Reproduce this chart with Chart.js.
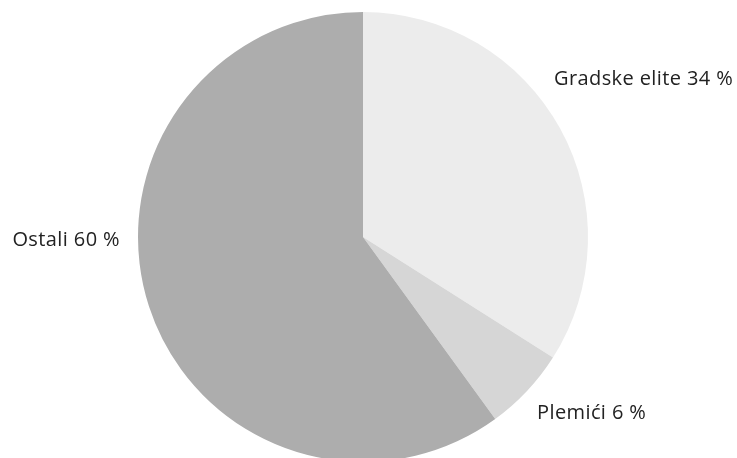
<!DOCTYPE html>
<html>
<head>
<meta charset="utf-8">
<script src="https://cdn.jsdelivr.net/npm/chart.js@4.4.0/dist/chart.umd.min.js"></script>
<style>
  html, body { margin: 0; padding: 0; background: #fff; overflow: hidden; }
  #wrap { width: 737px; height: 474px; }
</style>
</head>
<body>
<div id="wrap"><canvas id="pie" width="737" height="474"></canvas></div>
<script>
const categories = ["Gradske elite", "Plemići", "Ostali"];
const shares = [34, 6, 60];
const sliceColors = ["#ececec", "#d6d6d6", "#adadad"];

// where each label sits (left/right edge x, baseline y)
const labelPlacement = [
  { x: 554, y: 85, align: "left" },
  { x: 537, y: 419, align: "left" },
  { x: 120, y: 246, align: "right" },
];

const sliceLabels = {
  id: "sliceLabels",
  afterDraw(chart) {
    const ctx = chart.ctx;
    ctx.save();
    ctx.font = "20px 'Open Sans'";
    ctx.letterSpacing = "0.4px";
    ctx.fillStyle = "#222";
    ctx.textBaseline = "alphabetic";
    categories.forEach((c, i) => {
      const p = labelPlacement[i];
      ctx.textAlign = p.align;
      ctx.fillText(c + " " + shares[i] + " %", p.x, p.y);
    });
    ctx.restore();
  },
};

new Chart(document.getElementById("pie"), {
  type: "pie",
  data: {
    labels: categories,
    datasets: [
      {
        data: shares,
        backgroundColor: sliceColors,
        borderWidth: 0,
      },
    ],
  },
  options: {
    responsive: false,
    animation: false,
    layout: { padding: { top: 12, bottom: 12, left: 0, right: 11 } },
    plugins: {
      legend: { display: false },
      tooltip: { enabled: false },
    },
  },
  plugins: [sliceLabels],
});
</script>
</body>
</html>
